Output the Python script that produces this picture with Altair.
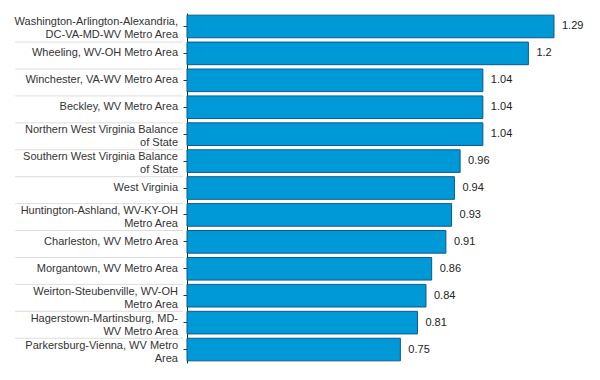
import altair as alt
import pandas as pd

labels = [
    "Washington-Arlington-Alexandria,\nDC-VA-MD-WV Metro Area",
    "Wheeling, WV-OH Metro Area",
    "Winchester, VA-WV Metro Area",
    "Beckley, WV Metro Area",
    "Northern West Virginia Balance\nof State",
    "Southern West Virginia Balance\nof State",
    "West Virginia",
    "Huntington-Ashland, WV-KY-OH\nMetro Area",
    "Charleston, WV Metro Area",
    "Morgantown, WV Metro Area",
    "Weirton-Steubenville, WV-OH\nMetro Area",
    "Hagerstown-Martinsburg, MD-\nWV Metro Area",
    "Parkersburg-Vienna, WV Metro\nArea",
]
values = [1.29, 1.2, 1.04, 1.04, 1.04, 0.96, 0.94, 0.93, 0.91, 0.86, 0.84, 0.81, 0.75]

df = pd.DataFrame({"name": labels, "value": values, "idx": list(range(len(labels)))})
FONT = "Liberation Sans"

yscale = alt.Scale(paddingInner=0.16, paddingOuter=0.08)
ysort = labels

base = alt.Chart(df)

bars = base.mark_bar(color="#0099d8", stroke="#0a5a8a", strokeWidth=1).encode(
    x=alt.X("value:Q", scale=alt.Scale(domain=[0, 1.3357], nice=False), axis=None),
    y=alt.Y("name:N", sort=ysort, scale=yscale,
            axis=alt.Axis(labels=False, title=None, ticks=True, tickSize=4,
                          tickColor="#333333", domainColor="#222222", grid=False)),
)

vals = base.mark_text(align="left", baseline="middle", dx=8, fontSize=11, font=FONT,
                      color="#222222").encode(
    x="value:Q",
    y=alt.Y("name:N", sort=ysort, scale=yscale),
    text=alt.Text("value:Q", format="~g"),
)

names_single = base.transform_filter("indexof(datum.name, '\\n') < 0").mark_text(
    align="right", baseline="middle", fontSize=11, font=FONT, color="#333333").encode(
    x=alt.value(-9),
    y=alt.Y("name:N", sort=ysort, scale=yscale),
    text="name:N",
)

names_multi = base.transform_filter("indexof(datum.name, '\\n') >= 0").mark_text(
    align="right", baseline="middle", fontSize=11, font=FONT, color="#333333",
    lineBreak="\n", lineHeight=13, dy=-4).encode(
    x=alt.value(-9),
    y=alt.Y("name:N", sort=ysort, scale=yscale),
    text="name:N",
)

seps = base.transform_filter("datum.idx > 0").mark_rule(color="#dddddd", strokeWidth=1).encode(
    x=alt.value(-172),
    x2=alt.value(-4),
    y=alt.Y("name:N", sort=ysort, scale=yscale, bandPosition=0),
)

chart = alt.layer(seps, bars, vals, names_single, names_multi).properties(
    width=380, height=350,
    autosize=alt.AutoSizeParams(type="none"),
    padding={"left": 179, "top": 5, "right": 24, "bottom": 5},
).configure_view(stroke=None).configure_axis(domainWidth=1)

chart.save("out.html", embed_options={"renderer": "svg", "actions": False})
